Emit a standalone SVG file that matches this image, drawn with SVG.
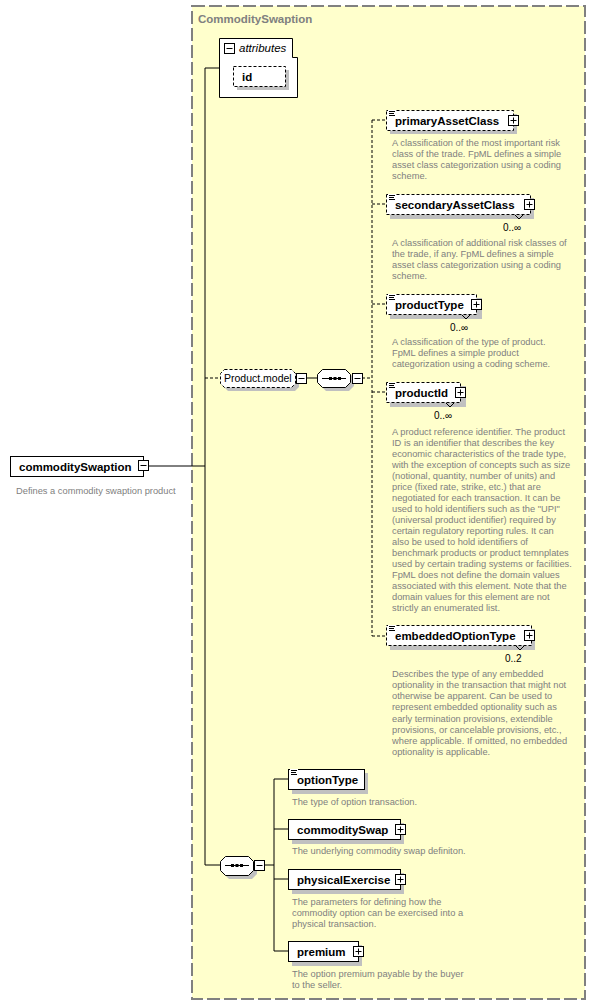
<svg xmlns="http://www.w3.org/2000/svg" xmlns:xlink="http://www.w3.org/1999/xlink" width="596" height="1007" viewBox="0 0 596 1007">
<style>
.bg{fill:#FFFFCC;stroke:#808080;stroke-width:2;stroke-dasharray:13 4}
.title{font-family:"Liberation Sans",Arial,sans-serif;font-size:11.5px;font-weight:bold;fill:#808080}
.n{font-family:"Liberation Sans",Arial,sans-serif;font-size:11.5px;font-weight:bold;fill:#000}
.p{font-family:"Liberation Sans",Arial,sans-serif;font-size:10.5px;fill:#000}
.m{font-family:"Liberation Sans",Arial,sans-serif;font-size:10px;fill:#000}
.d{font-family:"Liberation Sans",Arial,sans-serif;font-size:9.3px;fill:#808080}
.box{fill:#fff;stroke:#000;stroke-width:1}
.obox{fill:#fff;stroke:#000;stroke-width:1;stroke-dasharray:3 2}
.sh{fill:#C0C0C0}
.ln{stroke:#000;stroke-width:1;fill:none}
.dl{stroke:#000;stroke-width:1;fill:none;stroke-dasharray:3 2}
</style>
<defs>
<g id="plus"><rect x="0.5" y="0.5" width="10" height="10" fill="#fff" stroke="#000"/><path d="M2.5 5.5H8.5M5.5 2.5V8.5" stroke="#000"/></g>
<g id="minus"><rect x="0.5" y="0.5" width="10" height="10" fill="#fff" stroke="#000"/><path d="M2.5 5.5H8.5" stroke="#000"/></g>
<g id="ico"><rect x="0" y="-1" width="8" height="7" fill="#fff"/><path d="M1 0.5H7M1 2.5H6M1 4.5H7" stroke="#000" stroke-width="1"/></g>
</defs>

<rect class="bg" x="192" y="6" width="393" height="993"/>
<text class="title" x="198" y="23">CommoditySwaption</text>

<g id="connectors">
<path class="ln" d="M149 466H205M205 68V865M205 68H219M205 865H220"/>
<path class="dl" d="M205 378H220"/>
<path class="ln" d="M306 378H317"/>
<path class="dl" d="M362 378H372M372 120V636M372 120H386M372 204H386M372 304H386M372 392H386M372 636H386"/>
<path class="ln" d="M264 865H274M274 779V951M274 779H288M274 829H288M274 879H288M274 951H288"/>
</g>

<g id="root">
<rect class="box" x="10.5" y="456.5" width="133" height="20"/>
<text class="n" x="19" y="471">commoditySwaption</text>
<use xlink:href="#minus" x="138" y="460"/>
<text class="d" x="16" y="494">Defines a commodity swaption product</text>
</g>

<g id="attributes">
<path class="box" d="M219.5 38.5H292.5V57.5H297.5V97.5H219.5Z"/>
<use xlink:href="#minus" x="224" y="43"/>
<text x="239" y="52" font-family="Liberation Sans, Arial, sans-serif" font-size="11.5" font-style="italic">attributes</text>
<rect class="sh" x="237" y="70" width="52" height="20"/>
<rect class="obox" x="233.5" y="66.5" width="52" height="20"/>
<text class="n" x="242" y="81">id</text>
</g>

<g id="productModel">
<polygon class="sh" points="228,373 295,373 299,377 299,387 295,391 228,391 224,387 224,377"/>
<polygon class="obox" points="224.5,369.5 291.5,369.5 295.5,373.5 295.5,383.5 291.5,387.5 224.5,387.5 220.5,383.5 220.5,373.5"/>
<text class="p" x="224" y="382">Product.model</text>
<use xlink:href="#minus" x="296" y="373"/>
</g>

<g id="seq1">
<polygon class="sh" points="326,373 349,373 354,378 354,386 349,391 326,391 321,386 321,378"/>
<polygon class="box" points="322.5,369.5 345.5,369.5 350.5,374.5 350.5,382.5 345.5,387.5 322.5,387.5 317.5,382.5 317.5,374.5"/>
<path d="M322 378.5H346" stroke="#000"/>
<path d="M329 378.5H341" stroke="#000" stroke-width="3" stroke-dasharray="3 1.5"/>
<use xlink:href="#minus" x="352" y="373"/>
</g>

<g id="primaryAssetClass">
<rect class="sh" x="390" y="114" width="127" height="20"/>
<rect class="obox" x="386.5" y="110.5" width="127" height="20"/>
<use xlink:href="#ico" x="388" y="111"/>
<text class="n" x="395" y="125">primaryAssetClass</text>
<use xlink:href="#plus" x="508" y="115"/>
<text class="d"><tspan x="392" y="146">A classification of the most important risk</tspan><tspan x="392" y="157">class of the trade. FpML defines a simple</tspan><tspan x="392" y="168">asset class categorization using a coding</tspan><tspan x="392" y="179">scheme.</tspan></text>
</g>

<g id="secondaryAssetClass">
<rect class="sh" x="390" y="198" width="144" height="21"/>
<rect class="obox" x="386.5" y="194.5" width="144" height="20"/>
<path class="ln" d="M515 215L519 219L523 215"/>
<use xlink:href="#ico" x="388" y="195"/>
<text class="n" x="395" y="209">secondaryAssetClass</text>
<use xlink:href="#plus" x="524" y="199"/>
<text class="m" x="503" y="231">0..∞</text>
<text class="d"><tspan x="392" y="246">A classification of additional risk classes of</tspan><tspan x="392" y="257">the trade, if any. FpML defines a simple</tspan><tspan x="392" y="268">asset class categorization using a coding</tspan><tspan x="392" y="279">scheme.</tspan></text>
</g>

<g id="productType">
<rect class="sh" x="390" y="298" width="92" height="21"/>
<rect class="obox" x="386.5" y="294.5" width="90" height="20"/>
<path class="ln" d="M462 315L466 319L470 315"/>
<use xlink:href="#ico" x="388" y="295"/>
<text class="n" x="395" y="309">productType</text>
<use xlink:href="#plus" x="471" y="299"/>
<text class="m" x="450" y="331">0..∞</text>
<text class="d"><tspan x="392" y="345">A classification of the type of product.</tspan><tspan x="392" y="356">FpML defines a simple product</tspan><tspan x="392" y="367">categorization using a coding scheme.</tspan></text>
</g>

<g id="productId">
<rect class="sh" x="390" y="386" width="76" height="21"/>
<rect class="obox" x="386.5" y="382.5" width="74" height="20"/>
<path class="ln" d="M446 403L450 407L454 403"/>
<use xlink:href="#ico" x="388" y="383"/>
<text class="n" x="395" y="397">productId</text>
<use xlink:href="#plus" x="455" y="387"/>
<text class="m" x="434" y="419">0..∞</text>
<text class="d"><tspan x="392" y="435">A product reference identifier. The product</tspan><tspan x="392" y="446">ID is an identifier that describes the key</tspan><tspan x="392" y="457">economic characteristics of the trade type,</tspan><tspan x="392" y="468">with the exception of concepts such as size</tspan><tspan x="392" y="479">(notional, quantity, number of units) and</tspan><tspan x="392" y="490">price (fixed rate, strike, etc.) that are</tspan><tspan x="392" y="501">negotiated for each transaction. It can be</tspan><tspan x="392" y="512">used to hold identifiers such as the "UPI"</tspan><tspan x="392" y="523">(universal product identifier) required by</tspan><tspan x="392" y="534">certain regulatory reporting rules. It can</tspan><tspan x="392" y="545">also be used to hold identifiers of</tspan><tspan x="392" y="556">benchmark products or product temnplates</tspan><tspan x="392" y="567">used by certain trading systems or facilities.</tspan><tspan x="392" y="578">FpML does not define the domain values</tspan><tspan x="392" y="589">associated with this element. Note that the</tspan><tspan x="392" y="600">domain values for this element are not</tspan><tspan x="392" y="611">strictly an enumerated list.</tspan></text>
</g>

<g id="embeddedOptionType">
<rect class="sh" x="390" y="629" width="145" height="21"/>
<rect class="obox" x="386.5" y="625.5" width="145" height="20"/>
<path class="ln" d="M516 646L520 650L524 646"/>
<use xlink:href="#ico" x="388" y="626"/>
<text class="n" x="395" y="640">embeddedOptionType</text>
<use xlink:href="#plus" x="524" y="630"/>
<text class="m" x="505" y="662">0..2</text>
<text class="d"><tspan x="392" y="677">Describes the type of any embedded</tspan><tspan x="392" y="688">optionality in the transaction that might not</tspan><tspan x="392" y="699">otherwise be apparent. Can be used to</tspan><tspan x="392" y="710">represent embedded optionality such as</tspan><tspan x="392" y="722">early termination provisions, extendible</tspan><tspan x="392" y="733">provisions, or cancelable provisions, etc.,</tspan><tspan x="392" y="744">where applicable. If omitted, no embedded</tspan><tspan x="392" y="755">optionality is applicable.</tspan></text>
</g>

<g id="seq2">
<polygon class="sh" points="229,860 252,860 257,865 257,874 252,879 229,879 224,874 224,865"/>
<polygon class="box" points="225.5,856.5 248.5,856.5 253.5,861.5 253.5,870.5 248.5,875.5 225.5,875.5 220.5,870.5 220.5,861.5"/>
<path d="M225 865.5H249" stroke="#000"/>
<path d="M231 865.5H243" stroke="#000" stroke-width="3" stroke-dasharray="3 1.5"/>
<use xlink:href="#minus" x="254" y="860"/>
</g>

<g id="optionType">
<rect class="sh" x="292" y="773" width="76" height="21"/>
<rect class="box" x="288.5" y="769.5" width="76" height="20"/>
<use xlink:href="#ico" x="290" y="770"/>
<text class="n" x="297" y="784">optionType</text>
<text class="d" x="292" y="805">The type of option transaction.</text>
</g>

<g id="commoditySwap">
<rect class="sh" x="292" y="823" width="112" height="21"/>
<rect class="box" x="288.5" y="819.5" width="112" height="20"/>
<text class="n" x="297" y="834">commoditySwap</text>
<use xlink:href="#plus" x="395" y="824"/>
<text class="d" x="292" y="854">The underlying commodity swap definiton.</text>
</g>

<g id="physicalExercise">
<rect class="sh" x="292" y="873" width="112" height="21"/>
<rect class="box" x="288.5" y="869.5" width="112" height="20"/>
<text class="n" x="297" y="884">physicalExercise</text>
<use xlink:href="#plus" x="395" y="874"/>
<text class="d"><tspan x="292" y="905">The parameters for defining how the</tspan><tspan x="292" y="916">commodity option can be exercised into a</tspan><tspan x="292" y="927">physical transaction.</tspan></text>
</g>

<g id="premium">
<rect class="sh" x="292" y="945" width="70" height="21"/>
<rect class="box" x="288.5" y="941.5" width="70" height="20"/>
<text class="n" x="297" y="956">premium</text>
<use xlink:href="#plus" x="353" y="946"/>
<text class="d"><tspan x="292" y="977">The option premium payable by the buyer</tspan><tspan x="292" y="988">to the seller.</tspan></text>
</g>
</svg>
